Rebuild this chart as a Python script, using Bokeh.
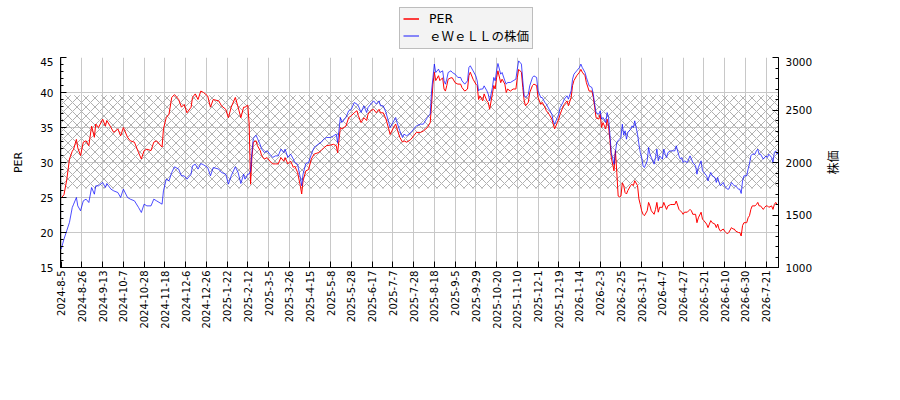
import math
from bokeh.plotting import figure
from bokeh.layouts import column, row
from bokeh.core.properties import value
from bokeh.models import (Range1d, LinearAxis, FixedTicker, SingleIntervalTicker,
                          BoxAnnotation, Legend, LegendItem)
from bokeh.embed import file_html
from bokeh.resources import INLINE

# x axis: trading-day index, one label every 15 days
tick_dates = [
    "2024-8-5", "2024-8-26", "2024-9-13", "2024-10-7", "2024-10-28", "2024-11-18",
    "2024-12-6", "2024-12-26", "2025-1-22", "2025-2-12", "2025-3-5", "2025-3-26",
    "2025-4-15", "2025-5-8", "2025-5-28", "2025-6-17", "2025-7-7", "2025-7-28",
    "2025-8-18", "2025-9-5", "2025-9-29", "2025-10-20", "2025-11-10", "2025-12-1",
    "2025-12-19", "2026-1-14", "2026-2-3", "2026-2-25", "2026-3-17", "2026-4-7",
    "2026-4-27", "2026-5-21", "2026-6-10", "2026-6-30", "2026-7-21",
]
tick_step = 15
last_day = 519

day = [
    0, 2, 4, 6, 8, 9,
    11, 12, 14, 16, 18, 20, 22, 24, 25, 27, 30, 32, 33, 36, 38, 41, 43, 45, 48, 50,
    53, 56, 58, 60, 62, 65, 67, 69, 73, 74, 76, 78, 80, 82, 85, 87, 89, 91, 94, 95,
    97, 99, 101, 103, 106, 108, 110, 114, 116, 119, 121, 123, 126, 128, 130, 132,
    133, 135, 136, 137, 138, 139, 141, 142, 144, 145, 147, 149, 151, 153, 155, 157,
    159, 161, 162, 164, 166, 168, 169, 171, 173, 174, 175, 177, 179, 181, 183, 186,
    188, 190, 192, 195, 197, 199, 200, 202, 203, 206, 208, 210, 212, 214, 215, 217,
    219, 221, 222, 224, 226, 228, 230, 231, 233, 235, 237, 238, 240, 242, 243, 245,
    247, 248, 250, 253, 255, 257, 260, 262, 265, 267,
    268, 269, 270, 271, 273, 274, 276, 277, 278, 279, 280, 282, 283, 285, 287, 289,
    290, 292, 294, 295, 296, 298, 300, 301, 302, 303, 305, 306, 308, 309, 310, 312,
    313, 314, 315, 316, 318, 319, 321, 322, 323, 325, 327, 329, 330, 331, 333, 334,
    335, 336, 338, 339, 341, 342, 344, 345, 347, 348, 350, 351, 353, 355, 356, 357,
    359, 360, 361, 363, 364, 366, 367, 369, 370, 371, 373, 375, 376, 377, 379, 380,
    382, 384, 385, 386, 387, 389, 390, 391, 392, 394, 395, 396, 397, 398, 400,
    401, 402, 403, 404, 405, 406, 407, 408, 409, 410, 412, 413, 414, 415, 417, 418,
    419, 420, 421, 422, 424, 425, 426, 427, 429, 430, 431, 432, 433, 435, 436, 437,
    438, 439, 441, 442, 444, 445, 447, 448, 449, 450, 451, 453, 454, 455, 456, 457,
    459, 460, 461, 463, 464, 465, 467, 468, 469, 470, 471, 473, 474, 475, 476, 477,
    479, 480, 481, 482, 483, 485, 486, 487, 488, 490, 491, 492, 493, 494, 496, 497,
    498, 499, 500, 502, 503, 504, 505, 506, 508, 509, 510, 511, 512, 514, 515, 516,
    517, 518, 519,
]

per = [
    24.9, 25.4, 27.5, 30.5, 31.6, 31.9,
    33.3, 32.1, 31.0, 32.9, 33.1, 32.4, 35.2, 33.6, 35.5, 35.0, 36.2, 35.2, 36.0, 35.0,
    34.3, 34.8, 33.8, 35.0, 33.6, 33.1, 32.9, 31.4, 30.5, 31.7, 31.9, 31.7, 32.9, 33.1,
    32.2, 34.8, 36.4, 36.9, 39.3, 39.7, 39.0, 37.9, 38.3, 37.1, 37.9, 39.3, 39.8, 39.0,
    40.2, 40.0, 39.5, 37.9, 39.0, 38.8, 38.1, 37.6, 36.4, 37.9, 39.3, 37.9, 36.4, 37.9,
    37.9, 38.2, 35.5, 26.9, 30.7, 32.9, 33.1, 32.4, 31.7, 31.0, 30.5, 30.7, 30.2, 29.8,
    29.8, 29.8, 30.7, 30.2, 30.7, 29.8, 30.2, 29.3, 29.5, 28.6, 26.7, 25.5, 27.4, 28.8,
    29.0, 30.5, 31.2, 31.4, 31.7, 32.1, 32.4, 32.5, 32.6, 32.4, 31.4, 35.0, 34.8, 35.2,
    36.4, 36.7, 37.1, 37.4, 36.7, 35.7, 36.4, 36.0, 36.9, 37.4, 37.6, 37.1, 37.6, 37.1,
    37.1, 36.2, 34.8, 34.0, 34.8, 35.5, 34.8, 33.6, 32.9, 33.1, 32.9, 33.3, 33.8, 34.3,
    34.3, 34.5, 35.0, 35.7,
    38.3, 41.2, 42.9, 41.7, 42.4, 41.7, 42.1, 40.5, 40.2, 41.0, 41.9, 42.1, 42.1, 41.4,
    41.2, 41.2, 40.7, 40.2, 40.5, 42.4, 42.9, 41.9, 41.2, 41.0, 39.0, 39.5, 38.8, 39.8,
    38.8, 38.6, 37.6, 39.8, 41.0, 40.5, 42.1, 43.1, 41.4, 41.9, 41.2, 40.0, 40.5, 40.2,
    40.5, 40.5, 42.1, 43.3, 42.9, 40.7, 38.8, 38.1, 38.6, 40.0, 41.0, 41.2, 41.0, 39.3,
    38.3, 38.6, 37.9, 37.4, 36.9, 36.2, 35.5, 34.8, 35.7, 36.2, 36.9, 37.9, 38.3, 38.8,
    38.1, 39.3, 41.0, 41.7, 42.4, 42.9, 43.3, 42.9, 42.4, 41.4, 40.2, 40.2, 39.3, 37.9,
    36.4, 36.2, 36.9, 35.0, 35.7, 34.8, 36.2, 35.2, 33.3, 30.7, 28.8,
    31.7, 28.6, 25.2, 25.1, 25.2, 27.1, 26.7, 25.7, 25.5, 26.0, 26.7, 26.9, 26.7, 27.4,
    26.7, 24.8, 24.0, 23.1, 22.6, 22.4, 23.1, 24.3, 23.8, 23.1, 22.6, 23.3, 24.3, 22.9,
    23.6, 23.6, 24.3, 23.8, 23.3, 23.8, 24.0, 24.0, 24.0, 24.5, 23.3, 23.1, 22.9, 22.6,
    22.9, 22.9, 23.1, 23.3, 23.1, 22.6, 22.6, 21.4, 22.1, 22.9, 21.9, 21.7, 21.2, 20.7,
    21.2, 21.7, 21.4, 21.2, 20.7, 21.2, 20.5, 20.2, 20.5, 20.2, 20.0, 19.8, 20.0, 20.7,
    20.5, 20.5, 20.2, 20.0, 20.0, 19.5, 21.0, 21.4, 21.4, 22.1, 22.4, 23.3, 23.8, 23.8,
    24.0, 24.3, 23.8, 23.8, 23.3, 23.6, 23.8, 23.8, 23.6, 23.8, 23.3, 24.0, 24.3, 24.0,
    24.0,
]

price = [
    1175, 1270, 1350, 1430, 1571, 1603,
    1667, 1587, 1540, 1635, 1651, 1619, 1762, 1698, 1778, 1778, 1810, 1762, 1800, 1746,
    1730, 1714, 1667, 1746, 1667, 1651, 1635, 1571, 1524, 1603, 1587, 1587, 1651, 1635,
    1603, 1730, 1841, 1825, 1905, 1959, 1937, 1873, 1873, 1841, 1889, 1968, 1984, 1937,
    1990, 1978, 1952, 1873, 1952, 1937, 1905, 1889, 1794, 1873, 1959, 1905, 1800, 1889,
    1841, 1889, 1890, 1921, 2100, 2230, 2260, 2230, 2170, 2130, 2095, 2111, 2079, 2048,
    2063, 2063, 2127, 2095, 2127, 2048, 2079, 2032, 2000, 1984, 1857, 1778, 1889, 1990,
    2000, 2079, 2143, 2175, 2190, 2222, 2238, 2238, 2254, 2270, 2190, 2429, 2381, 2429,
    2492, 2508, 2571, 2556, 2540, 2476, 2540, 2476, 2524, 2556, 2587, 2556, 2587, 2540,
    2540, 2476, 2381, 2333, 2381, 2429, 2381, 2302, 2238, 2270, 2254, 2286, 2317, 2349,
    2365, 2365, 2429, 2460,
    2683, 2810, 2937, 2857, 2889, 2857, 2873, 2778, 2746, 2794, 2857, 2873, 2857, 2841,
    2810, 2810, 2778, 2746, 2778, 2905, 2921, 2873, 2825, 2778, 2683, 2698, 2700, 2730,
    2683, 2651, 2587, 2714, 2810, 2778, 2873, 2943, 2841, 2857, 2778, 2746, 2762, 2762,
    2778, 2794, 2889, 2968, 2937, 2778, 2635, 2619, 2651, 2730, 2810, 2825, 2810, 2683,
    2619, 2619, 2571, 2556, 2508, 2460, 2397, 2365, 2429, 2460, 2524, 2571, 2603, 2635,
    2603, 2683, 2794, 2841, 2873, 2905, 2937, 2905, 2857, 2810, 2730, 2714, 2651, 2556,
    2476, 2460, 2492, 2413, 2429, 2381, 2476, 2429, 2270, 2095, 1984,
    2100, 2190, 2210, 2222, 2238, 2365, 2260, 2302, 2222, 2286, 2317, 2349, 2333, 2397,
    2270, 2175, 2095, 2048, 1968, 1952, 2016, 2143, 2079, 2048, 1984, 2048, 2127, 2016,
    2063, 2032, 2127, 2079, 2048, 2095, 2111, 2111, 2111, 2159, 2063, 2032, 2048, 2000,
    2016, 2000, 2032, 2063, 2032, 2000, 1968, 1889, 1952, 2016, 1921, 1905, 1873, 1825,
    1873, 1905, 1873, 1857, 1810, 1857, 1810, 1778, 1810, 1778, 1762, 1746, 1746, 1810,
    1794, 1778, 1778, 1746, 1746, 1705, 1825, 1873, 1873, 1937, 1984, 2063, 2079, 2079,
    2111, 2127, 2079, 2079, 2032, 2048, 2063, 2048, 2079, 2048, 2000, 2095, 2111, 2079,
    2095,
]

band_low, band_high = 26.3, 39.6

tick_pos = [i * tick_step for i in range(len(tick_dates))]

p = figure(frame_width=718, frame_height=210,
           min_border_left=60, min_border_top=0, min_border_right=44, min_border_bottom=106,
           x_range=Range1d(-0.5, last_day), y_range=Range1d(15, 45),
           output_backend="svg", toolbar_location=None)
p.extra_y_ranges = {"price": Range1d(1000, 3000)}
p.outline_line_color = None
p.background_fill_color = "white"

x_ticker = FixedTicker(ticks=tick_pos)
p.xaxis.ticker = x_ticker
p.xaxis.major_label_overrides = {t: d for t, d in zip(tick_pos, tick_dates)}
p.xaxis.major_label_orientation = math.pi / 2
p.yaxis.ticker = SingleIntervalTicker(interval=5, num_minor_ticks=5)
p.yaxis.axis_label = "PER"

right = LinearAxis(y_range_name="price",
                   ticker=SingleIntervalTicker(interval=500, num_minor_ticks=5))
p.add_layout(right, "right")

for ax in p.axis:
    ax.axis_line_color = "black"
    ax.major_tick_line_color = "black"
    ax.minor_tick_line_color = "black"
    ax.major_tick_in = 6
    ax.major_tick_out = 0
    ax.minor_tick_in = 3
    ax.minor_tick_out = 0
    ax.major_label_text_font = "DejaVu Sans"
    ax.major_label_text_font_size = "10.5px"
    ax.major_label_text_color = "black"
    ax.major_label_standoff = 7
    ax.axis_label_text_font_style = "normal"
    ax.axis_label_text_font_size = "11px"
    ax.axis_label_text_color = "black"
    ax.axis_label_standoff = 12

p.xaxis.major_label_text_font_size = "10px"
p.xaxis.major_label_standoff = 3
p.xaxis.minor_tick_line_color = None
p.yaxis[0].axis_label_text_font = "DejaVu Sans"

p.xgrid.ticker = x_ticker
p.ygrid.ticker = SingleIntervalTicker(interval=5)
p.grid.grid_line_color = "#c8c8c8"
p.grid.grid_line_width = 1

band = BoxAnnotation(bottom=band_low, top=band_high, fill_color=None, line_color=None,
                     hatch_pattern="x", hatch_color="#b0b0b0", hatch_scale=9,
                     hatch_weight=1, level="underlay")
p.add_layout(band)

p.line(day, per, line_color="red", line_width=1)
p.line(day, price, y_range_name="price", line_color="blue", line_alpha=0.7, line_width=1)

# the legend sits above the frame: a small strip figure of its own
top = figure(width=822, height=57, min_border=0, x_range=Range1d(0, 1), y_range=Range1d(0, 1),
             x_axis_location=None, y_axis_location=None,
             output_backend="svg", toolbar_location=None)
top.outline_line_color = None
top.grid.visible = False
k_per = top.line([5, 6], [5, 6], line_color="red", line_width=1.5)
k_px = top.line([5, 6], [5, 6], line_color="blue", line_alpha=0.6, line_width=1.5)

legend = Legend(items=[LegendItem(label="PER", renderers=[k_per]),
                       LegendItem(label="ｅＷｅＬＬの株価", renderers=[k_px])],
                location=(339, 8))
legend.label_text_font = "DejaVu Sans, Noto Sans CJK JP"
legend.label_text_font_size = "12.5px"
legend.label_text_line_height = 1.0
legend.label_text_color = "black"
legend.glyph_width = 16
legend.glyph_height = 15
legend.label_height = 15
legend.label_standoff = 10
legend.padding = 3
legend.spacing = 0
legend.margin = 0
legend.background_fill_color = "#f3f3f3"
legend.background_fill_alpha = 1
legend.border_line_color = "#888888"
top.add_layout(legend)

# right-hand title 株価, read bottom to top, in a narrow strip beside the chart
side = figure(width=20, height=324, min_border=0, x_range=Range1d(0, 1), y_range=Range1d(0, 1),
              x_axis_location=None, y_axis_location=None,
              output_backend="svg", toolbar_location=None)
side.outline_line_color = None
side.grid.visible = False
side.text(x=[0.5], y=[0.5], text=["株価"], angle=math.pi / 2, text_align="center",
          text_baseline="middle", text_font=value("Noto Sans CJK JP"),
          text_font_size="12px", text_color="black")

open("out.html", "w").write(file_html(row(column(top, p), side), INLINE))
